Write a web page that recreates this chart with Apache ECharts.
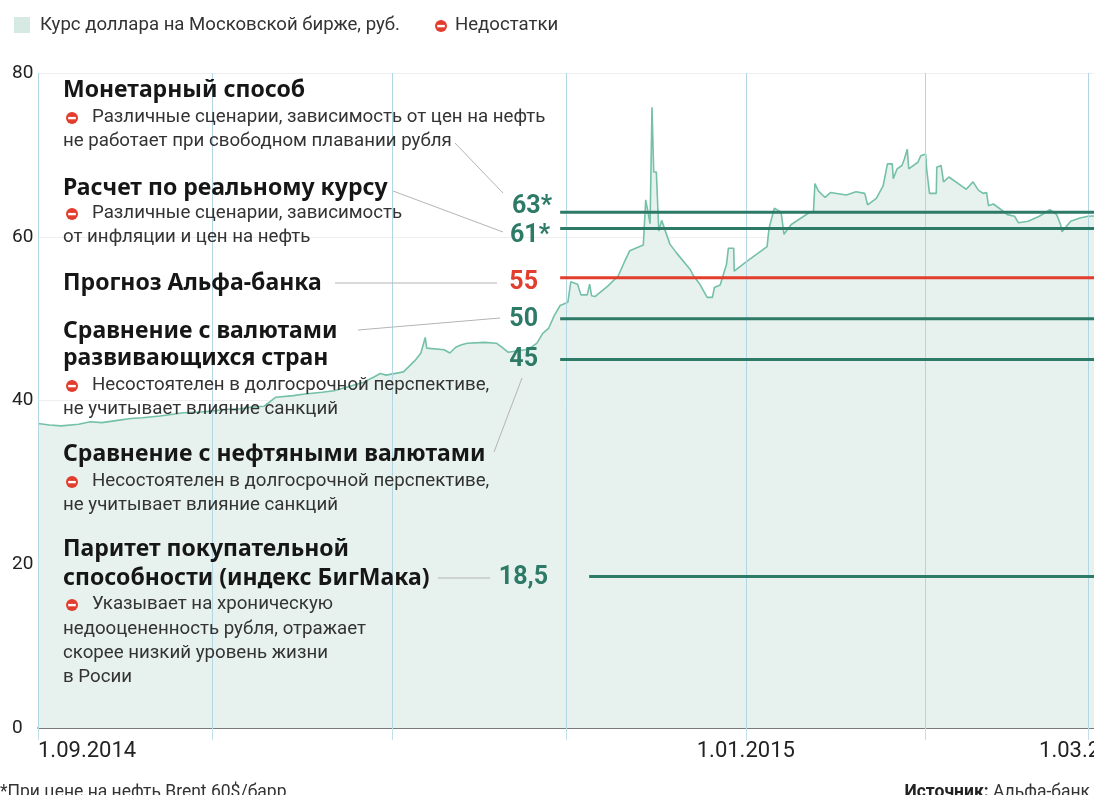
<!DOCTYPE html>
<html lang="ru">
<head>
<meta charset="UTF-8">
<title>Курс доллара и оценки справедливого курса рубля</title>
<script src="https://cdn.jsdelivr.net/npm/echarts@6/dist/echarts.min.js"></script>
<style>
  html, body { margin: 0; padding: 0; background: #fff; overflow: hidden; }
  #chart { width: 1160px; height: 795px; }
</style>
</head>
<body>
<div id="chart"></div>
<script>
// Курс доллара на Московской бирже, руб.
const rateDates = [
  '2014-09-01', '2014-09-03', '2014-09-05', '2014-09-08', '2014-09-10', '2014-09-12',
  '2014-09-15', '2014-09-17', '2014-09-19', '2014-09-22', '2014-09-24', '2014-09-26',
  '2014-09-29', '2014-10-01', '2014-10-03', '2014-10-06', '2014-10-08', '2014-10-10',
  '2014-10-12', '2014-10-15', '2014-10-17', '2014-10-20', '2014-10-22', '2014-10-24',
  '2014-10-27', '2014-10-29', '2014-10-30', '2014-10-31', '2014-11-03', '2014-11-04',
  '2014-11-05', '2014-11-06', '2014-11-06 18:00', '2014-11-07', '2014-11-10', '2014-11-11',
  '2014-11-12', '2014-11-13', '2014-11-14', '2014-11-17', '2014-11-19', '2014-11-20',
  '2014-11-21', '2014-11-24', '2014-11-25', '2014-11-26', '2014-11-27', '2014-11-28',
  '2014-11-29', '2014-11-30', '2014-12-01 08:00', '2014-12-01 20:00', '2014-12-02', '2014-12-03',
  '2014-12-03 14:00', '2014-12-04 16:00', '2014-12-05 02:00', '2014-12-05 10:00', '2014-12-06',
  '2014-12-08 06:00', '2014-12-10', '2014-12-11', '2014-12-12', '2014-12-14 08:00',
  '2014-12-14 18:00', '2014-12-15', '2014-12-15 12:00', '2014-12-15 20:00', '2014-12-16 03:00',
  '2014-12-16 14:00', '2014-12-17', '2014-12-17 12:00', '2014-12-18 22:00', '2014-12-20 02:00',
  '2014-12-22 10:00', '2014-12-23', '2014-12-24', '2014-12-25 08:00', '2014-12-26 06:00',
  '2014-12-26 14:00', '2014-12-27 14:00', '2014-12-28 16:00', '2014-12-29', '2014-12-29 22:00',
  '2014-12-30', '2015-01-01', '2015-01-04 16:00', '2015-01-05', '2015-01-05 22:00',
  '2015-01-07 02:00', '2015-01-07 14:00', '2015-01-08 20:00', '2015-01-11 20:00', '2015-01-12 16:00',
  '2015-01-12 22:00', '2015-01-13 12:00', '2015-01-14 16:00', '2015-01-15 14:00', '2015-01-18 08:00',
  '2015-01-20', '2015-01-21 12:00', '2015-01-22', '2015-01-23 12:00', '2015-01-24 16:00',
  '2015-01-25 10:00', '2015-01-26 06:00', '2015-01-26 10:00', '2015-01-27 02:00', '2015-01-27 22:00',
  '2015-01-28 08:00', '2015-01-28 20:00', '2015-01-29 02:00', '2015-01-30 16:00', '2015-01-31 04:00',
  '2015-02-01', '2015-02-01 04:00', '2015-02-01 16:00', '2015-02-02 20:00', '2015-02-02 22:00',
  '2015-02-03 16:00', '2015-02-04 02:00', '2015-02-05', '2015-02-07 10:00', '2015-02-08',
  '2015-02-09 04:00', '2015-02-10 02:00', '2015-02-10 22:00', '2015-02-11 12:00', '2015-02-11 20:00',
  '2015-02-12 16:00', '2015-02-14 14:00', '2015-02-15 02:00', '2015-02-16 08:00', '2015-02-17',
  '2015-02-18 16:00', '2015-02-20 14:00', '2015-02-22 10:00', '2015-02-23 14:00', '2015-02-24 06:00',
  '2015-02-24 12:00', '2015-02-26', '2015-02-27 14:00', '2015-03-01', '2015-03-04'
];
const rateValues = [
  37.2, 37.0, 36.9, 37.1, 37.4, 37.3,
  37.6, 37.8, 37.9, 38.1, 38.3, 38.5,
  38.6, 38.7, 38.9, 39.0, 39.2, 39.3,
  40.4, 40.6, 40.8, 41.0, 41.2, 41.6,
  42.2, 42.9, 43.3, 43.1, 43.5, 44.2,
  44.9, 45.8, 47.7, 46.4, 46.2, 45.8,
  46.5, 46.8, 47.0, 47.1, 47.0, 46.5,
  45.9, 46.2, 46.5, 47.0, 48.2, 48.8,
  50.4, 51.6, 52.0, 54.5, 54.5, 54.2,
  52.9, 52.9, 54.2, 52.8, 52.7,
  54.0, 55.2, 56.8, 58.3, 59.0,
  64.5, 64.5, 61.6, 75.8, 67.9,
  67.9, 60.7, 62.0, 59.1, 58.0,
  56.0, 55.2, 54.3, 52.6, 52.6,
  53.8, 54.1, 56.6, 58.6, 58.6,
  55.8, 56.9, 58.8, 61.0, 63.5,
  63.0, 60.3, 61.5, 62.9, 63.1,
  66.5, 65.6, 64.8, 65.4, 65.1,
  65.5, 65.3, 63.9, 64.7, 66.2,
  68.9, 68.9, 67.1, 68.3, 68.7,
  69.5, 70.7, 68.3, 69.1, 69.9,
  70.1, 68.3, 65.3, 65.3, 68.5,
  68.7, 66.7, 67.3, 66.1, 65.8,
  66.7, 65.7, 65.3, 65.4, 63.8,
  64.0, 63.0, 62.7, 62.5, 61.7,
  61.9, 62.5, 63.3, 62.7, 61.5,
  60.6, 61.9, 62.3, 62.5, 62.6
];

// Оценки справедливого курса
const levelValues = [63, 61, 55, 50, 45, 18.5];
const levelLabels = ['63*', '61*', '55', '50', '45', '18,5'];
const levelStart = ['2014-11-30', '2014-11-30', '2014-11-30', '2014-11-30', '2014-11-30', '2014-12-05'];
const forecastIndex = 2;

// Ось времени
const axisMin = '2014-09-01';
const axisMax = '2015-03-04';
const monthStarts = ['2014-09-01', '2014-10-01', '2014-11-01', '2014-12-01', '2015-01-01', '2015-02-01', '2015-03-01'];
const labelDates = ['2014-09-01', '2015-01-01', '2015-03-01'];

// Подписи методов
const headings = [
  ['Монетарный способ', 90],
  ['Расчет по реальному курсу', 188],
  ['Прогноз Альфа-банка', 283],
  ['Сравнение с валютами', 331],
  ['развивающихся стран', 358],
  ['Сравнение с нефтяными валютами', 454],
  ['Паритет покупательной', 549],
  ['способности (индекс БигМака)', 578]
];
const notes = [
  [true, 'Различные сценарии, зависимость от цен на нефть', 117],
  [false, 'не работает при свободном плавании рубля', 141],
  [true, 'Различные сценарии, зависимость', 213],
  [false, 'от инфляции и цен на нефть', 237],
  [true, 'Несостоятелен в долгосрочной перспективе,', 385],
  [false, 'не учитывает влияние санкций', 409],
  [true, 'Несостоятелен в долгосрочной перспективе,', 481],
  [false, 'не учитывает влияние санкций', 505],
  [true, 'Указывает на хроническую', 604],
  [false, 'недооцененность рубля, отражает', 629],
  [false, 'скорее низкий уровень жизни', 653],
  [false, 'в Росии', 677]
];
// положение подписей значений: [правый край, y]
const levelLabelPos = [[552, 207], [550, 236], [538, 283], [538, 320], [538, 360], [548, 578]];
const connectors = [
  [455, 143, 503, 193],
  [393, 191, 503, 232],
  [335, 283, 497, 283],
  [358, 330, 500, 318],
  [494, 452, 522, 378],
  [438, 578, 490, 578]
];

const GREEN = '#2d7a66';
const RED = '#e23d2d';
const BODY_FONT = 'Roboto';
const HEAD_FONT = '"Noto Sans"';

// дата 'YYYY-MM-DD[ HH:mm]' -> метка времени UTC
function ts(s) {
  const m = s.match(/(\d+)-(\d+)-(\d+)(?:\s+(\d+):(\d+))?/);
  return Date.UTC(+m[1], +m[2] - 1, +m[3], m[4] ? +m[4] : 0, m[5] ? +m[5] : 0);
}
function fmtDate(v) {
  const d = new Date(v);
  return d.getUTCDate() + '.' + String(d.getUTCMonth() + 1).padStart(2, '0') + '.' + d.getUTCFullYear();
}

function minusDot(cx, cy) {
  return [
    { type: 'circle', shape: { cx: cx, cy: cy, r: 6 }, style: { fill: RED }, z: 20 },
    { type: 'rect', shape: { x: cx - 3.8, y: cy - 1.1, width: 7.6, height: 2.4 }, style: { fill: '#fff' }, z: 21 }
  ];
}

function textEl(text, x, y, opts) {
  return {
    type: 'text', z: 20, silent: true,
    style: Object.assign({
      text: text, x: x, y: y,
      fontFamily: BODY_FONT, fontSize: 18.7, fill: '#333',
      align: 'left', textAlign: 'left', verticalAlign: 'middle', textVerticalAlign: 'middle'
    }, opts || {})
  };
}

const graphics = [];
// легенда
graphics.push({ type: 'rect', shape: { x: 14, y: 17, width: 16, height: 16 }, style: { fill: '#d6e9e3' }, z: 20 });
graphics.push(textEl('Курс доллара на Московской бирже, руб.', 40, 25, { fontSize: 18.6 }));
graphics.push(...minusDot(441, 26));
graphics.push(textEl('Недостатки', 455, 25, { fontSize: 18.6 }));

headings.forEach(h => {
  graphics.push(textEl(h[0], 63, h[1], { fontFamily: HEAD_FONT, fontWeight: 'bold', fontSize: 23, fill: '#161616' }));
});
notes.forEach(n => {
  if (n[0]) {
    graphics.push(...minusDot(72, n[2] + 1));
    graphics.push(textEl(n[1], 92, n[2]));
  } else {
    graphics.push(textEl(n[1], 63, n[2]));
  }
});
connectors.forEach(c => {
  graphics.push({ type: 'line', shape: { x1: c[0], y1: c[1], x2: c[2], y2: c[3] }, style: { stroke: '#b4b4b4', lineWidth: 1 }, z: 19, silent: true });
});
levelLabels.forEach((t, i) => {
  graphics.push(textEl(t, levelLabelPos[i][0], levelLabelPos[i][1], {
    fontFamily: BODY_FONT, fontWeight: 'bold', fontSize: 25,
    fill: i === forecastIndex ? RED : GREEN, align: 'right', textAlign: 'right'
  }));
});
// сноски
graphics.push(textEl('*При цене на нефть Brent 60$/барр.', 0, 793, { fontSize: 17.5 }));
graphics.push(textEl('{b|Источник:} Альфа-банк', 1090, 793, {
  fontSize: 17.5, align: 'right', textAlign: 'right',
  rich: { b: { fontFamily: BODY_FONT, fontSize: 17.5, fontWeight: 'bold', fill: '#222' } }
}));

const chart = echarts.init(document.getElementById('chart'), null, { renderer: 'canvas' });

const series = [{
  name: 'Курс доллара',
  type: 'line',
  data: rateDates.map((d, i) => [ts(d), rateValues[i]]),
  symbol: 'none',
  lineStyle: { color: '#74c0a9', width: 1.6 },
  areaStyle: { color: '#e7f2ee', opacity: 1 },
  z: 2,
  markLine: {
    silent: true,
    symbol: 'none',
    label: { show: false },
    lineStyle: { color: '#b3d7e2', width: 1, type: 'solid' },
    data: monthStarts.map(d => ({ xAxis: ts(d) }))
  }
}];
levelValues.forEach((v, i) => {
  series.push({
    type: 'line',
    data: [[ts(levelStart[i]), v], [ts(axisMax), v]],
    symbol: 'none',
    silent: true,
    lineStyle: { color: i === forecastIndex ? RED : GREEN, width: 3 },
    z: 5
  });
});

chart.setOption({
  animation: false,
  grid: { left: 38, top: 73, right: 1160 - 1105.5, bottom: 67, containLabel: false, outerBoundsMode: 'none' },
  xAxis: {
    type: 'value',
    min: ts(axisMin),
    max: ts(axisMax),
    axisLine: { show: true, lineStyle: { color: '#555', width: 1.5 } },
    axisTick: { show: true, customValues: monthStarts.map(ts), length: 12, lineStyle: { color: '#c3dfe8', width: 1 } },
    axisLabel: {
      customValues: labelDates.map(ts),
      formatter: fmtDate,
      alignMinLabel: 'left',
      margin: 12,
      fontFamily: BODY_FONT,
      fontSize: 22,
      color: '#222'
    },
    splitLine: { show: false }
  },
  yAxis: {
    type: 'value',
    min: 0,
    max: 80,
    interval: 20,
    axisLine: { show: false },
    axisTick: { show: false },
    axisLabel: { align: 'left', margin: 26, padding: [0, 0, 8, 0], fontFamily: BODY_FONT, fontSize: 19, color: '#222' },
    splitLine: { show: true, lineStyle: { color: '#eeeeee', width: 1 } }
  },
  series: series,
  graphic: graphics
});
</script>
</body>
</html>
